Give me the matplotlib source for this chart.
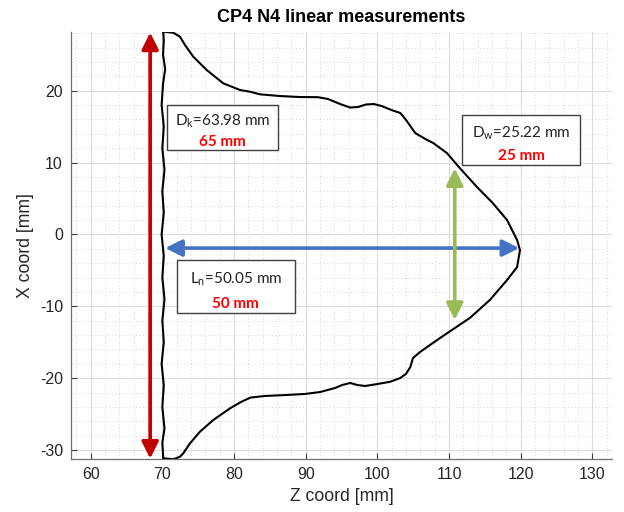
import numpy as np
import matplotlib.pyplot as plt
from matplotlib.ticker import MultipleLocator
from matplotlib.patches import Rectangle

plt.rcParams['font.family'] = ['Liberation Sans', 'DejaVu Sans']
plt.rcParams['axes.unicode_minus'] = False
plt.rcParams['mathtext.fontset'] = 'custom'
plt.rcParams['mathtext.rm'] = 'Lato'
plt.rcParams['mathtext.it'] = 'Lato'

# outline of the part (Z, X) in mm
contour_z = [70.13, 71.53, 72.46, 73.16, 74.32, 76.19, 78.50, 80.83, 82.23, 83.6,
             86.4, 89.2, 91.7, 93.1, 94.8, 96.2, 97.3, 98.4, 99.5, 100.6,
             102.0, 103.2, 103.9, 104.6, 105.3, 106.7, 107.8, 109.7, 111.5, 113.9,
             116.1, 118.1, 119.5, 119.9, 119.5, 118.1, 115.7, 112.9, 110.4, 108.75,
             107.35, 105.95, 104.97, 104.6, 104.0, 103.2, 101.8, 100.1, 98.3, 97.2,
             96.2, 95.1, 94.1, 92.0, 89.9, 87.1, 84.3, 82.3, 81.0, 79.44,
             77.11, 75.25, 73.86, 72.92, 72.46, 71.53, 70.13,
             70.0, 70.3, 70.0, 70.2, 69.9, 70.2, 70.0, 70.3, 70.0, 70.2,
             69.9, 70.2, 70.0, 70.3, 70.0, 70.2, 69.9, 70.1, 70.4, 70.1,
             70.2, 70.13]
contour_x = [28.21, 28.07, 27.51, 26.36, 24.73, 22.88, 21.03, 20.10, 19.86, 19.5,
             19.26, 19.12, 19.1, 18.85, 18.15, 17.66, 17.73, 18.08, 18.15, 17.87,
             17.3, 16.9, 16.06, 15.09, 14.1, 13.28, 12.72, 11.33, 9.24, 6.6,
             4.37, 2.0, -0.78, -2.17, -4.54, -6.34, -9.12, -11.63, -13.3, -14.41,
             -15.38, -16.36, -17.2, -18.45, -19.4, -19.98, -20.5, -20.8, -21.09, -20.95,
             -20.67, -20.95, -21.37, -21.93, -22.2, -22.35, -22.48, -22.7, -23.3, -24.2,
             -25.82, -27.45, -29.07, -30.46, -30.93, -31.29, -31.15,
             -29.0, -27.0, -24.0, -21.0, -18.0, -15.0, -12.0, -9.0, -6.0, -3.0,
             0.0, 3.0, 6.0, 9.0, 12.0, 15.0, 18.0, 21.0, 23.0, 25.0,
             27.0, 28.21]

# measurement arrows: (z0, x0, z1, x1)
arrow_dk = (68.3, 28.1, 68.3, -31.2)
arrow_ln = (70.4, -1.9, 119.8, -1.9)
arrow_dw = (110.8, 9.2, 110.8, -11.9)

# labels
labels_measured = ['D$_\\mathrm{k}$=63.98 mm', 'D$_\\mathrm{w}$=25.22 mm',
                   'L$_\\mathrm{n}$=50.05 mm']
labels_nominal = ['65 mm', '25 mm', '50 mm']
box_z = [(70.6, 86.2), (111.8, 128.3), (72.0, 88.5)]
box_x = [(11.75, 18.0), (9.66, 16.6), (-10.98, -3.55)]

fig = plt.figure(figsize=(6.24, 5.12), dpi=100)
ax = fig.add_axes([0.1143, 0.1035, 0.866, 0.834])

ax.plot(contour_z, contour_x, color='black', lw=1.5, zorder=3)

for (z0, x0, z1, x1), col in zip([arrow_dk, arrow_ln, arrow_dw],
                                 ['#C00000', '#4472C4', '#9BBB59']):
    ax.annotate('', xy=(z1, x1), xytext=(z0, x0),
                arrowprops=dict(arrowstyle='<|-|>,head_length=0.5,head_width=0.25',
                                color=col, lw=2.6, mutation_scale=20,
                                shrinkA=0, shrinkB=0),
                zorder=4, annotation_clip=False)

for lab, nom, bz, bx in zip(labels_measured, labels_nominal, box_z, box_x):
    ax.add_patch(Rectangle((bz[0], bx[0]), bz[1] - bz[0], bx[1] - bx[0],
                           facecolor='white', edgecolor='#404040', lw=1.0, zorder=5))
    zc = (bz[0] + bz[1]) / 2
    h = bx[1] - bx[0]
    ax.text(zc, bx[1] - 0.37 * h, lab, ha='center', va='center', fontsize=11,
            color='#222222', family=['Lato', 'DejaVu Sans'], zorder=6)
    ax.text(zc, bx[0] + 0.18 * h, nom, ha='center', va='center', fontsize=11,
            color='#FF0000', fontweight='bold', family=['Lato', 'DejaVu Sans'], zorder=6)

ax.set_xlim(57.3, 132.7)
ax.set_ylim(-31.25, 28.17)
ax.xaxis.set_major_locator(MultipleLocator(10))
ax.yaxis.set_major_locator(MultipleLocator(10))
ax.xaxis.set_minor_locator(MultipleLocator(2))
ax.yaxis.set_minor_locator(MultipleLocator(2))
ax.grid(which='major', color='#dcdcdc', lw=0.8, ls='-')
ax.grid(which='minor', color='#d4d4d4', lw=0.7, ls=(0, (1, 2.5)))
ax.set_axisbelow(True)

for s in ['top', 'right']:
    ax.spines[s].set_visible(False)
for s in ['left', 'bottom']:
    ax.spines[s].set_color('#707070')
    ax.spines[s].set_linewidth(0.9)
ax.tick_params(which='major', direction='in', length=4, width=0.8, color='#404040',
               labelsize=11.5, labelcolor='#262626', pad=6)
ax.tick_params(which='minor', length=0)

ax.set_xlabel('Z coord [mm]', fontsize=12.7, color='#262626', labelpad=4)
ax.set_ylabel('X coord [mm]', fontsize=12.7, color='#262626', labelpad=4)
ax.set_title('CP4 N4 linear measurements', fontsize=13, fontweight='bold', pad=7)

plt.savefig('out.png', dpi=100)
